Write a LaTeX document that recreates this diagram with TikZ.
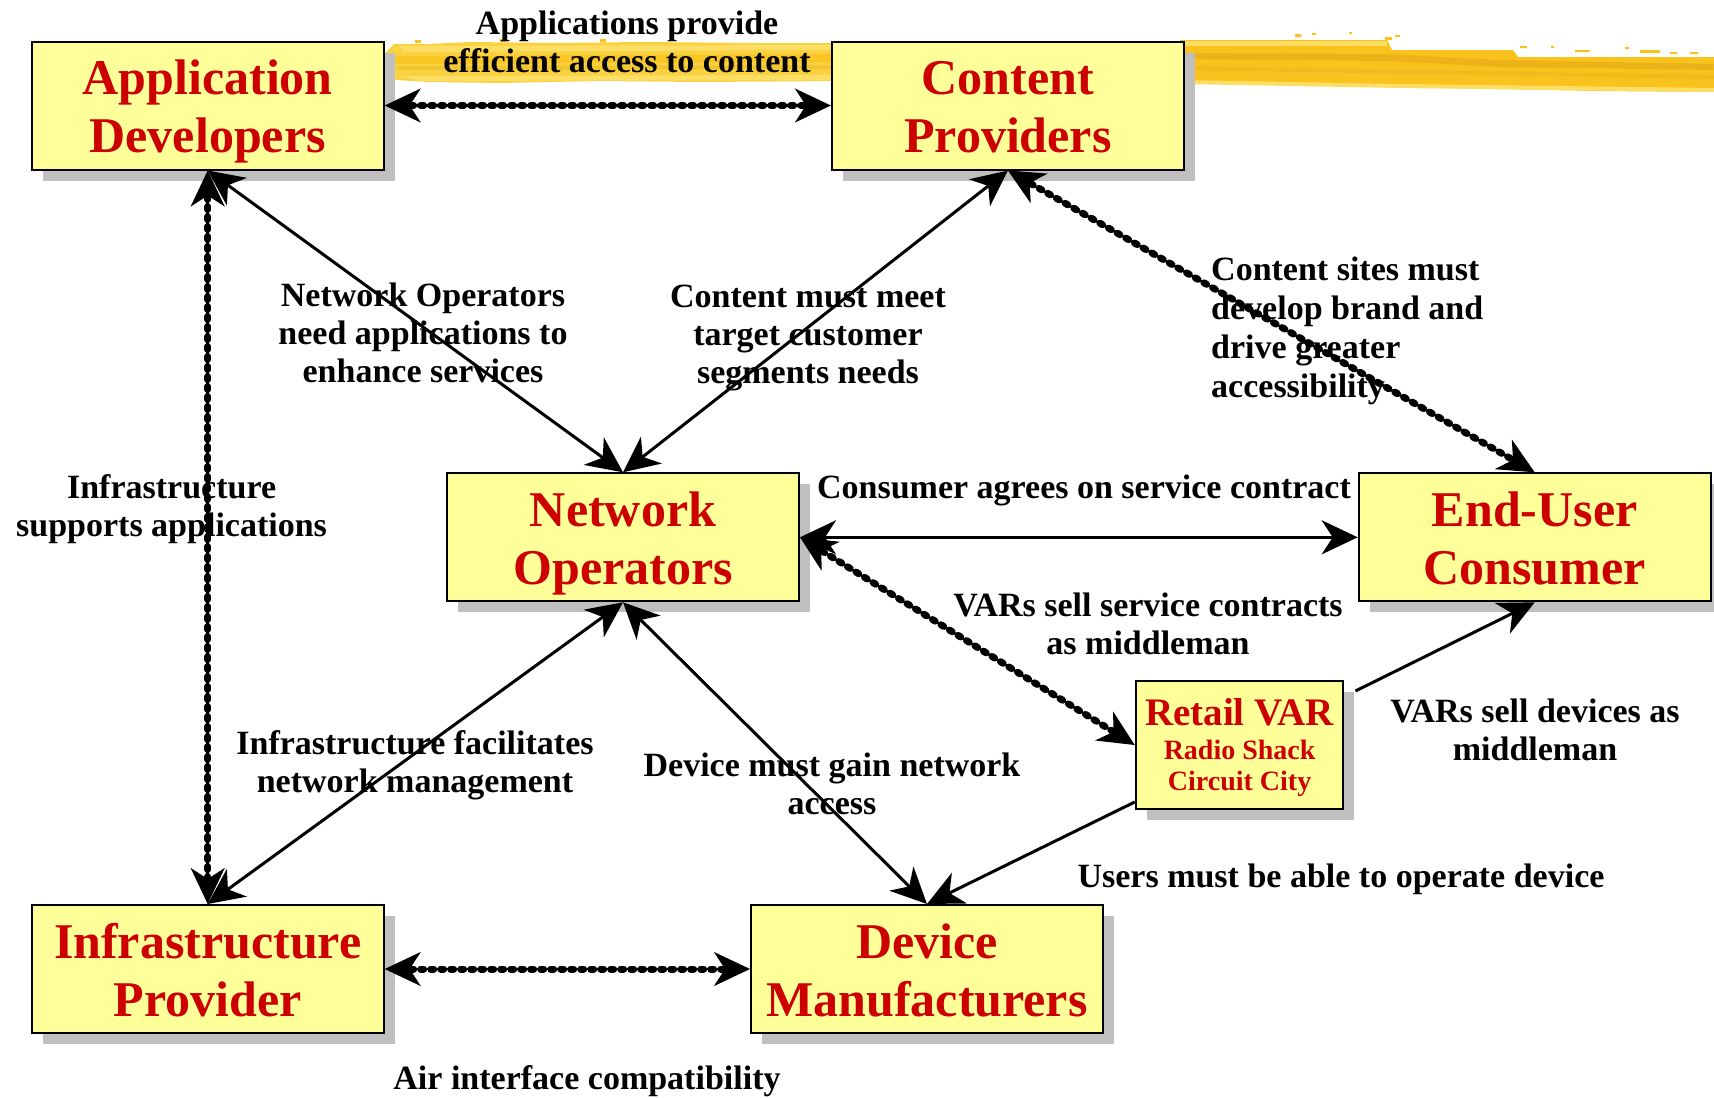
\documentclass[tikz,border=0pt]{standalone}
\usepackage{fontspec}
\setmainfont{Liberation Serif}
\usetikzlibrary{arrows.meta,shadows,calc}
\definecolor{boxfill}{RGB}{255,255,153}
\definecolor{titlered}{RGB}{204,0,0}
\definecolor{shade}{RGB}{191,191,191}
\definecolor{brush}{RGB}{250,194,28}
\definecolor{brushpale}{RGB}{250,210,64}
\definecolor{brushdark}{RGB}{226,170,22}
\definecolor{brushlight}{RGB}{253,222,100}
% vertical padding struts for the two-line titles
\newcommand\hitop{\rule{0pt}{48pt}}
\newcommand\lobot{\rule[-12pt]{0pt}{12pt}}
\begin{document}
\begin{tikzpicture}[x=1pt,y=-1pt,
  >={Stealth[length=36pt,width=34pt,inset=11pt]},
  party/.style={draw=black, line width=2pt, fill=boxfill, text=titlered,
    font=\fontsize{50}{58}\selectfont\bfseries, align=center,
    minimum width=352pt, minimum height=128pt, inner sep=0pt,
    drop shadow={shadow xshift=11pt, shadow yshift=-11pt, opacity=1, fill=shade}},
  notetext/.style={font=\fontsize{34}{38}\selectfont\bfseries, align=center, inner sep=0pt},
  solidlink/.style={<->, line width=3pt},
  oneway/.style={->, line width=3pt},
  beadlink/.style={<->, line width=2.5pt,
    postaction={draw, -, line width=7pt, line cap=round,
      dash pattern=on 3pt off 7pt, shorten <=26pt, shorten >=26pt}},
]
\useasboundingbox (0,0) rectangle (1714,1098);

% brush stroke, left stretch (between the two top boxes)
\fill[brushpale] (386,52) -- (394,44) -- (430,44) -- (470,42) -- (560,43) -- (640,42)
  -- (760,43) -- (840,43) -- (840,81) -- (700,82) -- (600,81) -- (500,83) -- (430,82)
  -- (396,80) -- (390,70) -- cycle;
\fill[brush, opacity=0.7] (392,56) -- (840,54) -- (840,62) -- (396,64) -- cycle;
\fill[brushdark, opacity=0.35] (396,66) -- (840,65) -- (840,69) -- (400,70) -- cycle;
\fill[brushlight] (398,46) -- (840,45) -- (840,50) -- (404,52) -- cycle;
\fill[brushlight] (400,76) -- (840,75) -- (840,80) -- (420,81) -- cycle;
% brush stroke, right stretch
\fill[brush] (1180,40) -- (1387,40) -- (1392,50) -- (1513,50) -- (1518,57) -- (1714,57)
  -- (1714,92) -- (1600,91) -- (1500,89) -- (1400,87) -- (1300,85) -- (1180,83) -- cycle;
\fill[brushlight] (1180,41) -- (1387,41) -- (1387,46) -- (1180,46) -- cycle;
\fill[brushdark, opacity=0.6] (1180,53) -- (1387,54) -- (1500,60) -- (1714,64) -- (1714,70)
  -- (1500,67) -- (1387,61) -- (1180,59) -- cycle;
\fill[brushdark, opacity=0.3] (1180,66) -- (1714,75) -- (1714,79) -- (1180,70) -- cycle;
\fill[brushlight] (1180,80) -- (1400,84) -- (1714,88) -- (1714,92) -- (1400,88) -- (1180,84) -- cycle;
% loose flecks along the upper edge
\fill[brush] (415,40) rectangle (421,43) (500,39) rectangle (506,42) (600,39) rectangle (606,42)
  (1295,34) rectangle (1301,37) (1312,33) rectangle (1316,35) (1349,32) rectangle (1352,34)
  (1385,37) rectangle (1392,40) (1395,35) rectangle (1400,37)
  (1520,46) rectangle (1527,48) (1551,46) rectangle (1554,48) (1575,50) rectangle (1590,52)
  (1625,47) rectangle (1629,49) (1640,50) rectangle (1660,53) (1670,52) rectangle (1677,54)
  (1690,52) rectangle (1698,54);

% parties
\node[party] (ad) at (207.7,105.5) {\hitop Application\\Developers\lobot};
\node[party] (cp) at (1007.9,105.5) {\hitop Content\\Providers\lobot};
\node[party] (no) at (623,537.3) {\hitop Network\\Operators\lobot};
\node[party] (eu) at (1534.7,537.3) {\hitop End-User\\Consumer\lobot};
\node[party] (ip) at (207.7,969) {\hitop Infrastructure\\Provider\lobot};
\node[party] (dm) at (927,969) {\hitop Device\\Manufacturers\lobot};
\node[party, minimum width=207.7pt, font=\fontsize{28}{31}\selectfont\bfseries] (var) at (1239.6,745)
  {{\fontsize{39}{40}\selectfont\rule{0pt}{32pt}Retail VAR}\\[3pt]Radio Shack\\Circuit City\rule[-6pt]{0pt}{6pt}};

% labels
\node[notetext] (l1) at (627,42) {Applications provide\\efficient access to content};
\node[notetext] (l2) at (423,332.4) {Network Operators\\need applications to\\enhance services};
\node[notetext] (l3) at (808,337.8) {Content must meet\\target customer\\segments needs};
\node[notetext, align=left, anchor=west, font=\fontsize{34}{39}\selectfont\bfseries] (l4) at (1211,330.5)
  {Content sites must\\develop brand and\\drive greater\\accessibility};
\node[notetext] (l5) at (171.6,509.3) {Infrastructure\\supports applications};
\node[notetext] (l6) at (1084,490.4) {Consumer agrees on service contract};
\node[notetext] (l7) at (1148,624) {VARs sell service contracts\\as middleman};
\node[notetext] (l8) at (1535,730) {VARs sell devices as\\middleman};
\node[notetext] (l9) at (415,765.3) {Infrastructure facilitates\\network management};
\node[notetext] (l10) at (832,784) {Device must gain network\\access};
\node[notetext] (l11) at (1341,879) {Users must be able to operate device};
\node[notetext] (l12) at (587,1081) {Air interface compatibility};

% connectors
\coordinate (varne) at ($(var.north east)+(11,11)$);
\coordinate (varsw) at ($(var.south west)+(0,-8)$);

\draw[beadlink] (ad.east) -- (cp.west);
\draw[beadlink] (ad.south) -- (ip.north);
\draw[beadlink] (cp.south) -- (eu.north);
\draw[beadlink] (no.east) -- (var.west);
\draw[beadlink] (ip.east) -- (dm.west);

\draw[solidlink] (ad.south) -- (no.north);
\draw[solidlink] (cp.south) -- (no.north);
\draw[solidlink] (no.east) -- (eu.west);
\draw[solidlink] (no.south) -- (ip.north);
\draw[solidlink] (no.south) -- (dm.north);
\draw[oneway] (varne) -- (eu.south);
\draw[oneway] (varsw) -- (dm.north);
\end{tikzpicture}
\end{document}
